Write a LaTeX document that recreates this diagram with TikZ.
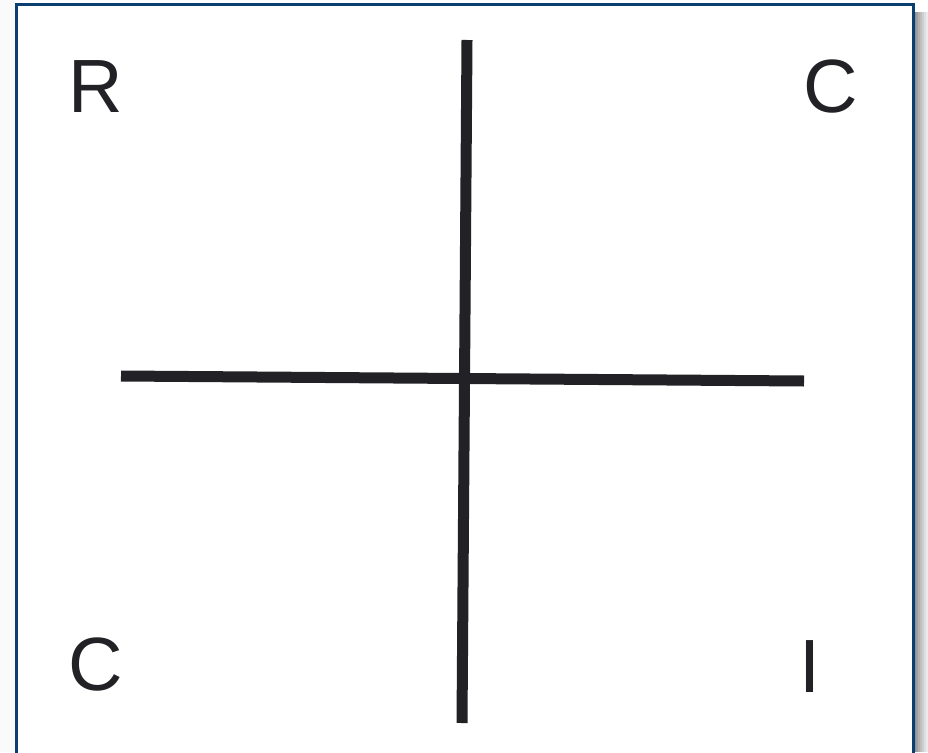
\documentclass[tikz,border=0pt]{standalone}
\usepackage{fontspec}
\setmainfont{Liberation Sans}
\definecolor{ink}{HTML}{222226}
\definecolor{frameblue}{HTML}{0B3F72}
\begin{document}
\begin{tikzpicture}[x=1pt,y=-1pt,
  letter/.style={anchor=base west,inner sep=0pt,text=ink,font=\fontsize{75.5}{75.5}\selectfont},
  bar/.style={draw=ink,line width=11pt}]
\useasboundingbox (0,0) rectangle (928,752);
\fill[white] (0,0) rectangle (928,752);
% shadow
\foreach \i/\c in {0/45,2/38,4/31,6/25,8/19,10/13,12/8}{
  \fill[black!\c] (914+\i,12) rectangle (916+\i,752);
}
\fill[black!2] (0,0) rectangle (15,752);
\fill[white] (16,5) rectangle (913,752);
\draw[frameblue,line width=3pt] (16,760) -- (16,5) -- (913,5) -- (913,760);
% letters
\node[letter] (r) at (68,112) {R};
\node[letter] (c1) at (803,112) {C};
\node[letter] (c2) at (68,690) {C};
\node[letter] (i) at (799,692) {I};
% cross
\coordinate (vt) at (467,40);
\coordinate (vb) at (462,723);
\coordinate (hl) at (121,376);
\coordinate (hr) at (804,381);
\draw[bar] (vt) -- (vb);
\draw[bar] (hl) -- (hr);
\end{tikzpicture}
\end{document}
